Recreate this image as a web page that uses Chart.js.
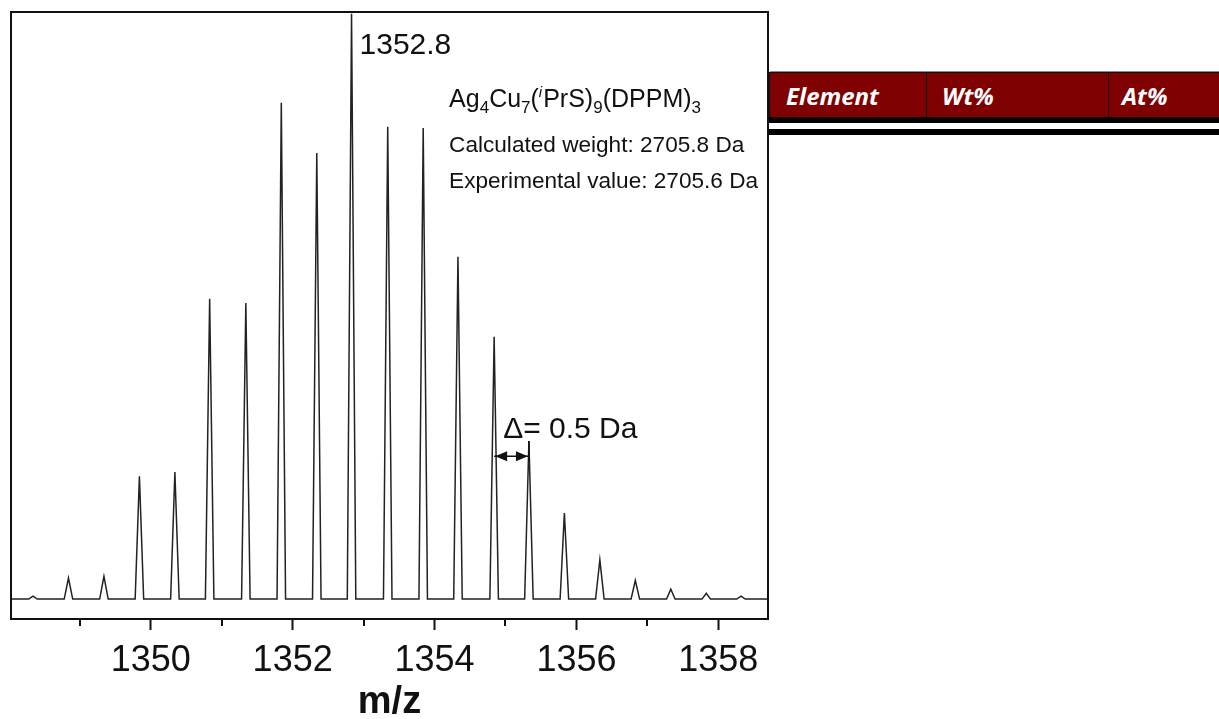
<!DOCTYPE html>
<html>
<head>
<meta charset="utf-8">
<script src="https://cdn.jsdelivr.net/npm/chart.js@4.4.1/dist/chart.umd.min.js"></script>
<style>
  body { margin: 0; background: #fff; width: 1219px; height: 719px; overflow: hidden; position: relative; }
  #wrap { position: absolute; left: 0; top: 0; width: 790px; height: 719px; }
  .rule-top { position: absolute; left: 770px; top: 71px; width: 460px; height: 1px; background: #8a8a8a; }
  .hdr { position: absolute; left: 769px; top: 72px; width: 460px; height: 44px; background: #7f0000; border: 1px solid #111; }
  .sep { position: absolute; top: 72px; width: 1px; height: 45px; background: #111; }
  .cell { position: absolute; top: 84px; font: italic bold 24px/24px "Open Sans", sans-serif; color: #fff; }
  .bar1 { position: absolute; left: 769px; top: 117px; width: 460px; height: 6px; background: #000; }
  .bar2 { position: absolute; left: 769px; top: 129px; width: 460px; height: 6px; background: #000; }
</style>
</head>
<body>
<div id="wrap"><canvas id="ms"></canvas></div>

<div class="rule-top"></div>
<div class="hdr"></div>
<div class="sep" style="left:926px"></div>
<div class="sep" style="left:1108px"></div>
<span class="cell" style="left:786px">Element</span>
<span class="cell" style="left:942px">Wt%</span>
<span class="cell" style="left:1122px">At%</span>
<div class="bar1"></div>
<div class="bar2"></div>

<script>
// Isotope peaks (m/z, relative intensity %)
const peakMz = [1348.34, 1348.84, 1349.34, 1349.84, 1350.34, 1350.83, 1351.34, 1351.84, 1352.34, 1352.83, 1353.34,
                1353.84, 1354.33, 1354.84, 1355.33, 1355.83, 1356.33, 1356.83, 1357.33, 1357.83, 1358.32];
const peakIntensity = [0.5, 3.6, 3.9, 21.0, 21.7, 51.3, 50.6, 84.8, 76.2, 100, 80.7,
                       80.5, 58.5, 44.8, 27.0, 14.7, 6.7, 3.2, 1.7, 1.0, 0.5];

// Axis ticks
const majorTicks = [1350, 1352, 1354, 1356, 1358];
const minorTicks = [1349, 1351, 1353, 1355, 1357];
const xRange = [1348.03, 1358.7];
const yRange = [-3.4, 100.3];

// Build the profile line: baseline foot, apex, baseline foot for every peak
const halfBase = 0.06;
const profile = [{ x: xRange[0], y: 0 }];
peakMz.forEach((m, i) => {
  profile.push({ x: m - halfBase, y: 0 });
  profile.push({ x: m, y: peakIntensity[i] });
  profile.push({ x: m + halfBase, y: 0 });
});
profile.push({ x: xRange[1], y: 0 });

const SANS = '"Liberation Sans", Arial, sans-serif';

// Frame, minor ticks and the text annotations
const decorations = {
  id: 'decorations',
  afterDraw(chart) {
    const { ctx, chartArea: a, scales: { x, y } } = chart;
    ctx.save();
    ctx.strokeStyle = '#111';
    ctx.lineWidth = 2;
    ctx.strokeRect(a.left, a.top, a.right - a.left, a.bottom - a.top);

    minorTicks.forEach(v => {
      const px = Math.round(x.getPixelForValue(v));
      ctx.beginPath();
      ctx.moveTo(px, a.bottom);
      ctx.lineTo(px, a.bottom + 7);
      ctx.stroke();
    });

    ctx.fillStyle = '#111';
    ctx.textBaseline = 'alphabetic';

    // most intense peak label
    ctx.font = '30px ' + SANS;
    ctx.fillText('1352.8', x.getPixelForValue(peakMz[9]) + 8, y.getPixelForValue(93.2));

    // formula with sub/superscripts
    const parts = [
      ['Ag', 0], ['4', 1], ['Cu', 0], ['7', 1], ['(', 0], ['i', 2], ['PrS', 0], [')', 0], ['9', 1], ['(DPPM)', 0], ['3', 1]
    ];
    let fx = x.getPixelForValue(1354.205);
    const fy = y.getPixelForValue(84.1);
    parts.forEach(([t, kind]) => {
      if (kind === 0) ctx.font = '25px ' + SANS;
      else if (kind === 1) ctx.font = '17px ' + SANS;
      else ctx.font = 'italic 15px ' + SANS;
      const dy = kind === 1 ? 6 : kind === 2 ? -10 : 0;
      ctx.fillText(t, fx, fy + dy);
      fx += ctx.measureText(t).width + (kind === 2 ? 1 : 0);
    });

    ctx.font = '22.6px ' + SANS;
    ctx.fillText('Calculated weight: 2705.8 Da', x.getPixelForValue(1354.205), y.getPixelForValue(76.4));
    ctx.fillText('Experimental value: 2705.6 Da', x.getPixelForValue(1354.205), y.getPixelForValue(70.3));

    // spacing marker between two neighbouring peaks
    ctx.font = '30px ' + SANS;
    ctx.fillText('\u0394= 0.5 Da', x.getPixelForValue(1354.967), y.getPixelForValue(27.6));
    const x1 = x.getPixelForValue(peakMz[13]);
    const x2 = x.getPixelForValue(peakMz[14]);
    const ay = y.getPixelForValue(24.4);
    ctx.lineWidth = 1.5;
    ctx.beginPath();
    ctx.moveTo(x2, y.getPixelForValue(peakIntensity[14]));
    ctx.lineTo(x2, ay + 5);
    ctx.moveTo(x1, ay);
    ctx.lineTo(x2, ay);
    ctx.stroke();
    const head = (tip, dir) => {
      ctx.beginPath();
      ctx.moveTo(tip, ay);
      ctx.lineTo(tip + dir * 12, ay - 5);
      ctx.lineTo(tip + dir * 12, ay + 5);
      ctx.closePath();
      ctx.fill();
    };
    head(x1 + 1, 1);
    head(x2 - 1, -1);
    ctx.restore();
  }
};

const ctx = document.getElementById('ms').getContext('2d');
new Chart(ctx, {
  type: 'line',
  data: {
    datasets: [{
      data: profile,
      borderColor: '#222',
      borderWidth: 1.5,
      pointRadius: 0,
      tension: 0,
      fill: false
    }]
  },
  options: {
    responsive: true,
    maintainAspectRatio: false,
    animation: false,
    layout: { padding: { left: 11, right: 22, top: 12, bottom: 0 } },
    plugins: { legend: { display: false }, tooltip: { enabled: false } },
    scales: {
      x: {
        type: 'linear',
        min: xRange[0],
        max: xRange[1],
        afterBuildTicks: s => { s.ticks = majorTicks.map(v => ({ value: v })); },
        afterFit: s => { s.height = 100; },
        grid: { drawOnChartArea: false, tickLength: 11, tickWidth: 2, tickColor: '#111' },
        border: { display: false },
        ticks: {
          color: '#111',
          padding: 17,
          maxRotation: 0,
          font: { family: SANS, size: 36, lineHeight: 0.8 },
          callback: v => String(v)
        },
        title: {
          display: true,
          text: 'm/z',
          color: '#111',
          padding: { top: 0, bottom: -3 },
          font: { family: SANS, size: 38, weight: 'bold', lineHeight: 1 }
        }
      },
      y: {
        display: false,
        min: yRange[0],
        max: yRange[1]
      }
    }
  },
  plugins: [decorations]
});
</script>
</body>
</html>
